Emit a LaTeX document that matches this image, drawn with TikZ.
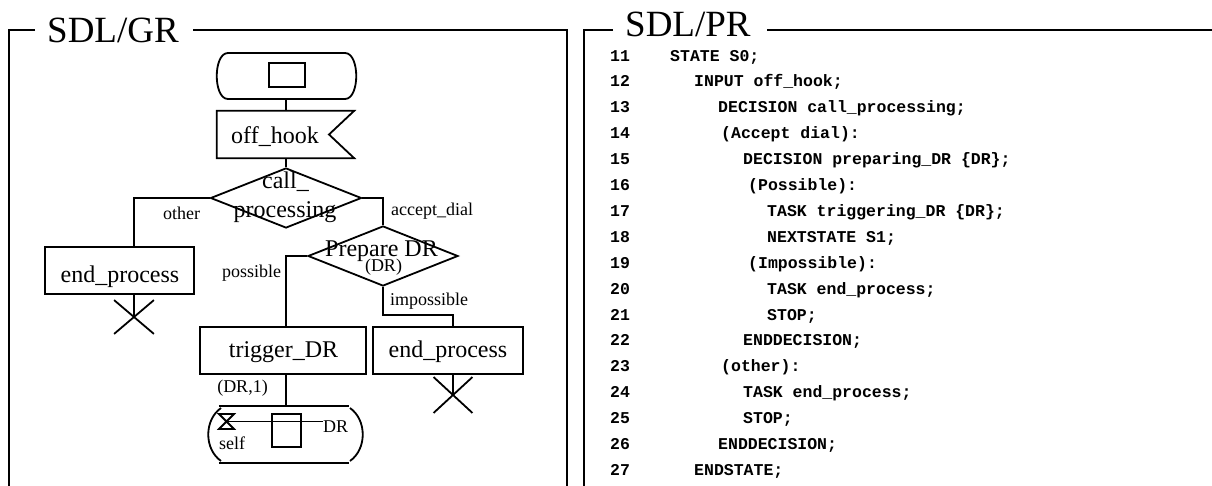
\documentclass[tikz,border=0pt]{standalone}
\usepackage{fontspec}
\setmainfont{Liberation Serif}
\newfontfamily\codefont{Liberation Mono}
\usetikzlibrary{shapes.geometric,shapes.misc}
\begin{document}
\begin{tikzpicture}[x=1pt,y=-1pt,
  frame/.style={line width=2.6pt},
  fl/.style={line width=1.8pt},
  box/.style={draw, line width=1.8pt, rectangle, inner sep=0pt},
  ghost/.style={rectangle, inner sep=0pt},
  dec/.style={draw, diamond, line width=1.8pt, inner sep=0pt},
  stopx/.style={draw, cross out, line width=1.8pt, inner sep=0pt, minimum width=38pt, minimum height=32pt},
  big/.style={font=\fontsize{24}{27}\selectfont, inner sep=0pt, anchor=base},
  lab/.style={font=\fontsize{18}{20}\selectfont, inner sep=0pt, anchor=base},
  ttl/.style={font=\fontsize{37}{40}\selectfont, inner sep=0pt, anchor=base west},
  code/.style={font=\codefont\bfseries\fontsize{16.5}{18}\selectfont, inner sep=0pt, anchor=base west}
]
\useasboundingbox (0,0) rectangle (1212,485);

% frames
\draw[frame] (35,30) -- (9,30) -- (9,490);
\draw[frame] (193,30) -- (567,30) -- (567,490);
\node[ttl] (gr) at (47,42) {SDL/GR};
\draw[frame] (613,30) -- (584,30) -- (584,490);
\draw[frame] (767,30) -- (1215,30);
\node[ttl] (pr) at (625,36) {SDL/PR};

% flowchart
\coordinate (spine) at (286,0);
\node[ghost, minimum width=139pt, minimum height=46pt] (st) at (286.5,76) {};
\draw[fl] (228,53) -- (345,53) .. controls (360,53) and (360,99) .. (345,99) -- (228,99) .. controls (213,99) and (213,53) .. (228,53) -- cycle;
\node[box, minimum width=36pt, minimum height=24pt] (sti) at (287,75) {};

\node[ghost, minimum width=137pt, minimum height=47pt] (in) at (285.5,134.5) {};
\draw[fl] (in.north west) -- (in.north east) -- (329,134.5) -- (in.south east) -- (in.south west) -- cycle;
\node[big] (intext) at (275,143) {off\_hook};
\draw[fl] (st.south -| spine) -- (in.north -| spine);

\node[dec, minimum width=151pt, minimum height=60pt] (d1) at (286,198) {};
\node[big] (d1a) at (285.5,188) {call\_};
\node[big] (d1b) at (285,217) {processing};
\draw[fl] (in.south -| spine) -- (d1.north);

\node[box, minimum width=149pt, minimum height=47pt] (ep1) at (119.5,270.5) {};
\node[big] (ep1t) at (120,282) {end\_process};
\node[stopx] (s1) at (134,317) {};
\draw[fl] (d1.west) -| (ep1.north -| s1.center);
\draw[fl] (ep1.south -| s1.center) -- (s1.center);
\node[lab] (lo) at (181.5,219) {other};

\node[dec, minimum width=150pt, minimum height=60pt] (d2) at (383,256) {};
\node[big] (d2a) at (381.5,256) {Prepare DR};
\node[lab] (d2b) at (383.5,271) {(DR)};
\draw[fl] (d1.east) -| (d2.north);
\node[lab, anchor=base west] (la) at (391,215) {accept\_dial};

\node[box, minimum width=166pt, minimum height=47pt] (tr) at (283,350.5) {};
\node[big] (trt) at (283.5,357) {trigger\_DR};
\draw[fl] (d2.west) -| (tr.north -| spine);
\node[lab, anchor=base west] (lp) at (222,277) {possible};

\node[box, minimum width=150pt, minimum height=47pt] (ep2) at (448,350.5) {};
\node[big] (ep2t) at (448,357) {end\_process};
\node[stopx, minimum width=37pt, minimum height=34pt] (s2) at (453,395) {};
\coordinate (bend) at (383,315);
\draw[fl] (d2.south) -- (bend) -| (ep2.north -| s2.center);
\draw[fl] (ep2.south -| s2.center) -- (s2.center);
\node[lab, anchor=base west] (li) at (390,305) {impossible};

% timer symbol
\node[ghost, minimum width=130pt, minimum height=57pt] (tim) at (284,434.5) {};
\draw[fl] (tim.north west) -- (tim.north east);
\draw[fl] (tim.south west) -- (tim.south east);
\draw[fl] (221,408) .. controls (204,420) and (204,449) .. (221,461);
\draw[fl] (350,408) .. controls (367,420) and (367,449) .. (350,461);
\draw[fl] (tr.south -| spine) -- (tim.north -| spine);
\node[lab] (l1) at (242.5,392) {(DR,1)};
\draw[fl] (219,414) -- (234,414) -- (219,429) -- (234,429) -- cycle;
\node[box, minimum width=29pt, minimum height=33pt] (tb) at (286.5,430.5) {};
\node[lab, anchor=base west] (dr) at (323,432) {DR};
\coordinate (hg) at (226.5,421.5);
\draw[fl] (hg) -- (hg -| dr.west);
\node[lab, anchor=base west] (self) at (219,449) {self};

% code
\foreach \i in {11,...,27} \node[code] (n\i) at (610,{61+(\i-11)*25.9}) {\i};
\node[code] (c11) at (670,61) {STATE S0;};
\node[code] (c12) at (694,86.9) {INPUT off\_hook;};
\node[code] (c13) at (718,112.8) {DECISION call\_processing;};
\node[code] (c14) at (721,138.7) {(Accept dial):};
\node[code] (c15) at (743,164.6) {DECISION preparing\_DR \{DR\};};
\node[code] (c16) at (748,190.5) {(Possible):};
\node[code] (c17) at (767,216.4) {TASK triggering\_DR \{DR\};};
\node[code] (c18) at (767,242.3) {NEXTSTATE S1;};
\node[code] (c19) at (748,268.2) {(Impossible):};
\node[code] (c20) at (767,294.1) {TASK end\_process;};
\node[code] (c21) at (767,320) {STOP;};
\node[code] (c22) at (743,345.9) {ENDDECISION;};
\node[code] (c23) at (721,371.8) {(other):};
\node[code] (c24) at (743,397.7) {TASK end\_process;};
\node[code] (c25) at (743,423.6) {STOP;};
\node[code] (c26) at (718,449.5) {ENDDECISION;};
\node[code] (c27) at (694,475.4) {ENDSTATE;};
\end{tikzpicture}
\end{document}
